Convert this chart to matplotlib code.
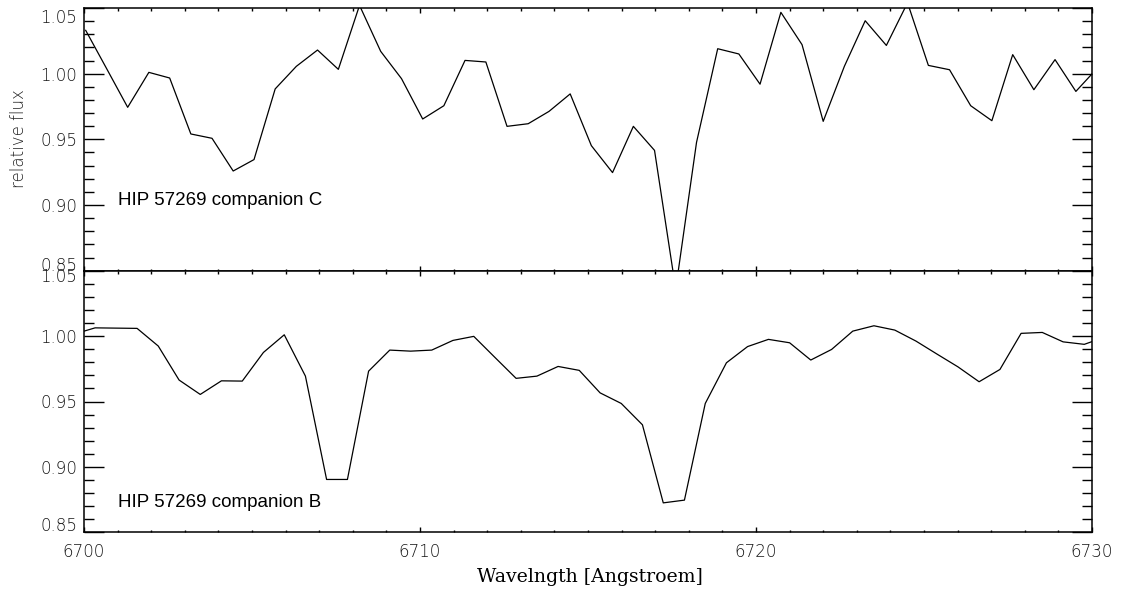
import matplotlib
matplotlib.use('Agg')
import matplotlib.pyplot as plt
from matplotlib.ticker import MultipleLocator, FormatStrFormatter
from matplotlib.transforms import ScaledTranslation

# spectrum of companion C (top panel)
wave_c = [6700.05, 6700.67, 6701.30, 6701.93, 6702.55, 6703.18, 6703.81, 6704.44,
          6705.06, 6705.69, 6706.32, 6706.95, 6707.57, 6708.20, 6708.83, 6709.45,
          6710.08, 6710.71, 6711.34, 6711.96, 6712.59, 6713.22, 6713.84, 6714.47,
          6715.10, 6715.73, 6716.35, 6716.98, 6717.61, 6718.23, 6718.86, 6719.49,
          6720.12, 6720.74, 6721.37, 6722.00, 6722.63, 6723.25, 6723.88, 6724.51,
          6725.13, 6725.76, 6726.39, 6727.02, 6727.64, 6728.27, 6728.90, 6729.52,
          6730.15]
flux_c = [1.0330, 1.0040, 0.9744, 1.0010, 0.9967, 0.9541, 0.9508, 0.9259,
          0.9346, 0.9884, 1.0056, 1.0180, 1.0033, 1.0520, 1.0170, 0.9962,
          0.9655, 0.9756, 1.0101, 1.0089, 0.9599, 0.9619, 0.9713, 0.9846,
          0.9452, 0.9247, 0.9599, 0.9416, 0.8360, 0.9477, 1.0190, 1.0150,
          0.9920, 1.0467, 1.0221, 0.9637, 1.0056, 1.0403, 1.0215, 1.0540,
          1.0063, 1.0030, 0.9756, 0.9642, 1.0145, 0.9878, 1.0107, 0.9865,
          1.0040]

# spectrum of companion B (bottom panel)
wave_b = [6699.70, 6700.33, 6700.95, 6701.58, 6702.21, 6702.83, 6703.46, 6704.09,
          6704.71, 6705.34, 6705.96, 6706.59, 6707.22, 6707.84, 6708.47, 6709.10,
          6709.72, 6710.35, 6710.98, 6711.60, 6712.23, 6712.86, 6713.48, 6714.11,
          6714.74, 6715.36, 6715.99, 6716.62, 6717.24, 6717.87, 6718.49, 6719.12,
          6719.75, 6720.37, 6721.00, 6721.63, 6722.25, 6722.88, 6723.51, 6724.13,
          6724.76, 6725.39, 6726.01, 6726.64, 6727.26, 6727.89, 6728.52, 6729.14,
          6729.77, 6730.40]
flux_b = [1.0015, 1.0063, 1.0061, 1.0059, 0.9924, 0.9664, 0.9554, 0.9658,
          0.9656, 0.9875, 1.0010, 0.9694, 0.8904, 0.8904, 0.9732, 0.9893,
          0.9885, 0.9893, 0.9967, 0.9998, 0.9837, 0.9677, 0.9694, 0.9768,
          0.9738, 0.9566, 0.9485, 0.9322, 0.8725, 0.8746, 0.9485, 0.9796,
          0.9920, 0.9975, 0.9949, 0.9817, 0.9898, 1.0038, 1.0079, 1.0046,
          0.9962, 0.9862, 0.9765, 0.9651, 0.9745, 1.0021, 1.0028, 0.9956,
          0.9937, 0.9994]

labels = ['HIP 57269 companion C', 'HIP 57269 companion B']
label_y = [0.900, 0.8695]

fig = plt.figure(figsize=(11.23, 5.89), dpi=100)
left, right = 84 / 1123, 1092 / 1123
ax_top = fig.add_axes([left, 1 - 270.7 / 589, right - left, 262.7 / 589])
ax_bot = fig.add_axes([left, 1 - 532.3 / 589, right - left, 261.6 / 589])

for ax, w, f, lab, ly in [(ax_top, wave_c, flux_c, labels[0], label_y[0]),
                          (ax_bot, wave_b, flux_b, labels[1], label_y[1])]:
    ax.plot(w, f, color='black', lw=0.9)
    ax.set_xlim(6700, 6730)
    ax.set_ylim(0.85, 1.05)
    ax.xaxis.set_major_locator(MultipleLocator(10))
    ax.xaxis.set_minor_locator(MultipleLocator(1))
    ax.yaxis.set_major_locator(MultipleLocator(0.05))
    ax.yaxis.set_minor_locator(MultipleLocator(0.01))
    ax.yaxis.set_major_formatter(FormatStrFormatter('%.2f'))
    ax.tick_params(axis='both', which='both', direction='in',
                   top=True, right=True, color='black', width=1.0,
                   labelsize=12, labelcolor='#151515')
    ax.tick_params(axis='y', which='major', length=14.4, pad=5)
    ax.tick_params(axis='y', which='minor', length=7.2)
    ax.tick_params(axis='x', which='major', length=3.6, pad=8)
    ax.tick_params(axis='x', which='minor', length=1.8)
    for t in ax.get_xticklabels() + ax.get_yticklabels():
        t.set_fontweight('light')
    for s in ax.spines.values():
        s.set_linewidth(1.1)
    ax.text(6701.0, ly, lab, fontsize=13.5, family='Liberation Sans',
            va='baseline', ha='left')

ax_top.tick_params(axis='x', labelbottom=False)

# nudge the end labels so they stay clear of the panel edges
fig.canvas.draw()
nudges = {(0, 1.05): -5.8, (0, 0.85): 4.8, (1, 1.05): -3.1, (1, 0.85): 5.8}
for i, ax in enumerate([ax_top, ax_bot]):
    for tick in ax.yaxis.get_major_ticks():
        key = (i, round(tick.get_loc(), 2))
        if key in nudges:
            off = ScaledTranslation(0, nudges[key] / 72, fig.dpi_scale_trans)
            tick.label1.set_transform(tick.label1.get_transform() + off)

fig.text(19 / 1123, 1 - 139 / 589, 'relative flux', rotation=90,
         ha='center', va='center', fontsize=12, color='#222222',
         fontweight='light')
fig.text(590 / 1123, 1 - 581.7 / 589, 'Wavelngth [Angstroem]',
         ha='center', va='baseline', fontsize=13.6, family='DejaVu Serif')

fig.savefig('out.png', dpi=100)
